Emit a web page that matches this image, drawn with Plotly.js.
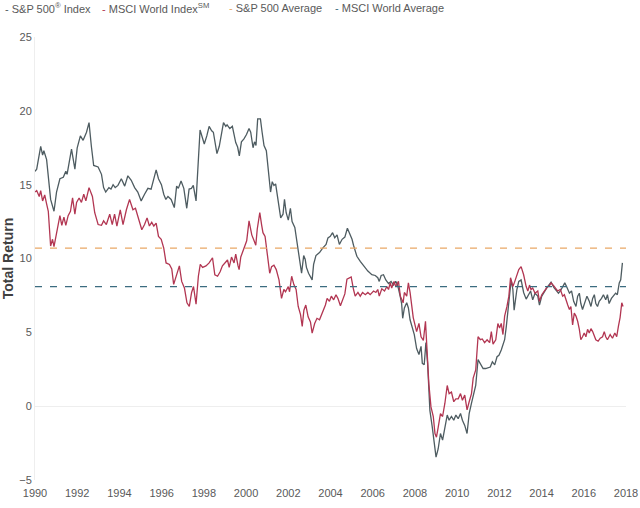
<!DOCTYPE html>
<html>
<head>
<meta charset="utf-8">
<script src="https://cdn.plot.ly/plotly-3.0.1.min.js"></script>
<style>html,body{margin:0;padding:0;background:#fff;}#chart{width:640px;height:508px;}</style>
</head>
<body>
<div id="chart"></div>
<script>
// ---- data ----
const seriesNames = ["S&P 500<sup>®</sup> Index", "MSCI World Index<sup>SM</sup>", "S&P 500 Average", "MSCI World Average"];
const xTickYears = [1990,1992,1994,1996,1998,2000,2002,2004,2006,2008,2010,2012,2014,2016,2018];
const yTickValues = [-5,0,5,10,15,20,25];

const spYears = [1990.00,1990.08,1990.27,1990.36,1990.42,1990.55,1990.74,1990.90,1991.02,1991.18,1991.34,1991.46,1991.52,1991.73,1991.89,1992.00,1992.15,1992.28,1992.44,1992.56,1992.67,1992.78,1992.99,1993.15,1993.25,1993.35,1993.50,1993.60,1993.70,1993.80,1993.93,1994.09,1994.25,1994.40,1994.56,1994.72,1994.87,1995.03,1995.19,1995.35,1995.50,1995.62,1995.74,1995.85,1995.99,1996.10,1996.20,1996.30,1996.45,1996.60,1996.71,1996.79,1996.92,1997.05,1997.19,1997.30,1997.41,1997.50,1997.63,1997.82,1997.92,1998.02,1998.14,1998.25,1998.37,1998.45,1998.62,1998.73,1998.93,1999.04,1999.10,1999.23,1999.35,1999.51,1999.60,1999.68,1999.78,1999.90,2000.02,2000.14,2000.22,2000.33,2000.40,2000.47,2000.55,2000.68,2000.76,2000.85,2000.96,2001.05,2001.16,2001.24,2001.32,2001.40,2001.52,2001.64,2001.75,2001.82,2001.90,2002.00,2002.10,2002.18,2002.31,2002.42,2002.50,2002.63,2002.73,2002.80,2002.86,2002.96,2003.13,2003.20,2003.31,2003.48,2003.63,2003.79,2003.88,2003.99,2004.10,2004.20,2004.31,2004.42,2004.55,2004.68,2004.80,2004.94,2005.02,2005.09,2005.25,2005.41,2005.57,2005.77,2005.96,2006.12,2006.24,2006.31,2006.40,2006.51,2006.62,2006.75,2006.87,2006.98,2007.09,2007.18,2007.30,2007.37,2007.42,2007.50,2007.61,2007.69,2007.77,2007.88,2007.97,2008.08,2008.19,2008.29,2008.35,2008.44,2008.52,2008.60,2008.71,2008.82,2008.92,2009.00,2009.10,2009.21,2009.31,2009.42,2009.53,2009.62,2009.73,2009.84,2009.94,2010.05,2010.16,2010.25,2010.36,2010.47,2010.57,2010.68,2010.79,2010.88,2010.99,2011.10,2011.23,2011.35,2011.46,2011.57,2011.67,2011.78,2011.89,2011.98,2012.09,2012.17,2012.25,2012.33,2012.41,2012.49,2012.56,2012.64,2012.70,2012.83,2012.92,2013.03,2013.15,2013.27,2013.35,2013.48,2013.58,2013.69,2013.82,2013.90,2014.01,2014.14,2014.26,2014.37,2014.45,2014.58,2014.68,2014.80,2014.89,2015.00,2015.10,2015.20,2015.32,2015.42,2015.52,2015.63,2015.71,2015.79,2015.86,2015.94,2016.05,2016.15,2016.26,2016.34,2016.42,2016.50,2016.57,2016.65,2016.73,2016.84,2016.93,2017.04,2017.12,2017.20,2017.31,2017.41,2017.51,2017.59,2017.68,2017.75,2017.83];
const spValues = [15.9,16.05,17.6,17.0,17.3,16.7,14.0,13.2,14.5,15.4,15.5,15.9,15.7,17.4,16.05,17.5,18.3,18.0,18.55,19.2,17.6,16.3,16.2,15.7,14.8,14.5,14.8,14.7,15.0,14.8,14.95,15.4,14.9,15.6,15.3,14.8,14.5,13.9,14.35,14.75,14.7,15.3,16.0,15.4,15.0,14.35,14.0,14.2,14.0,13.45,14.9,14.75,15.25,14.75,13.4,14.7,14.75,14.95,13.9,18.7,18.3,17.75,18.3,18.95,18.65,18.55,17.1,17.6,19.2,18.95,19.05,18.8,18.95,17.85,17.55,16.95,17.9,18.1,18.4,18.8,18.55,17.5,17.9,17.65,19.45,19.45,18.55,17.65,17.3,16.05,14.5,15.2,14.95,15.05,13.9,12.75,13.0,14.0,13.1,12.6,13.4,12.5,12.1,10.95,10.3,9.0,10.2,9.95,9.4,9.0,8.55,9.6,10.2,10.4,10.7,10.95,11.4,11.5,11.75,11.4,11.6,10.95,11.3,11.45,12.05,11.6,11.3,10.9,10.15,9.8,9.5,9.15,8.9,8.85,8.7,8.45,8.85,8.9,8.55,8.3,8.45,8.2,8.45,8.2,7.45,6.95,5.95,6.65,7.0,6.65,5.85,5.3,4.85,3.9,3.5,4.05,2.9,2.8,4.3,2.9,-0.3,-1.4,-2.5,-3.45,-2.9,-1.85,-2.3,-1.3,-0.6,-0.95,-0.7,-0.95,-0.6,-0.85,-0.5,-0.95,-1.3,-1.85,-0.5,0.2,0.85,1.4,3.15,2.9,2.55,2.55,2.6,2.65,3.0,2.8,3.35,3.45,3.8,4.15,4.5,5.4,6.5,7.3,8.55,7.9,6.5,7.9,8.45,8.55,7.7,7.25,7.45,7.8,7.2,7.65,7.45,6.85,7.45,7.8,8.05,8.25,8.4,8.05,7.9,7.65,7.8,8.1,8.35,8.05,7.65,7.8,7.1,6.75,7.45,7.65,6.95,6.55,7.1,7.45,7.1,6.75,7.3,7.55,6.95,6.75,7.1,7.3,7.55,7.2,7.55,6.95,7.3,7.45,7.65,7.55,8.35,8.55,9.7];

const msciYears = [1990.00,1990.08,1990.20,1990.27,1990.36,1990.46,1990.55,1990.63,1990.74,1990.83,1990.90,1991.02,1991.18,1991.27,1991.37,1991.46,1991.57,1991.68,1991.78,1991.89,1991.97,1992.09,1992.20,1992.31,1992.41,1992.56,1992.72,1992.83,1992.99,1993.15,1993.25,1993.38,1993.54,1993.66,1993.77,1993.88,1994.04,1994.17,1994.33,1994.48,1994.64,1994.76,1994.85,1994.95,1995.06,1995.19,1995.31,1995.42,1995.53,1995.63,1995.74,1995.85,1995.98,1996.10,1996.21,1996.37,1996.48,1996.57,1996.68,1996.84,1996.95,1997.08,1997.20,1997.31,1997.42,1997.51,1997.63,1997.74,1997.83,1997.94,1998.10,1998.25,1998.41,1998.52,1998.65,1998.77,1998.88,1999.00,1999.12,1999.20,1999.31,1999.43,1999.51,1999.62,1999.67,1999.75,1999.83,1999.95,2000.03,2000.14,2000.27,2000.38,2000.46,2000.53,2000.65,2000.74,2000.80,2000.90,2001.00,2001.12,2001.21,2001.32,2001.43,2001.56,2001.68,2001.79,2001.87,2002.00,2002.06,2002.16,2002.26,2002.37,2002.47,2002.58,2002.66,2002.74,2002.83,2002.94,2003.05,2003.13,2003.25,2003.36,2003.48,2003.60,2003.76,2003.84,2003.95,2004.04,2004.15,2004.26,2004.35,2004.47,2004.58,2004.68,2004.78,2004.98,2005.09,2005.17,2005.30,2005.41,2005.52,2005.65,2005.77,2005.88,2006.04,2006.15,2006.24,2006.31,2006.43,2006.56,2006.67,2006.75,2006.83,2006.90,2007.01,2007.09,2007.22,2007.31,2007.44,2007.50,2007.61,2007.69,2007.77,2007.85,2007.92,2008.08,2008.19,2008.29,2008.40,2008.50,2008.58,2008.66,2008.76,2008.87,2008.95,2009.02,2009.10,2009.21,2009.31,2009.42,2009.53,2009.62,2009.73,2009.84,2009.94,2010.05,2010.16,2010.25,2010.36,2010.47,2010.57,2010.68,2010.76,2010.88,2010.99,2011.10,2011.19,2011.30,2011.42,2011.54,2011.62,2011.70,2011.83,2011.93,2012.01,2012.09,2012.17,2012.25,2012.36,2012.45,2012.53,2012.64,2012.72,2012.83,2012.92,2013.03,2013.15,2013.27,2013.35,2013.43,2013.50,2013.58,2013.69,2013.82,2013.90,2014.01,2014.14,2014.26,2014.37,2014.45,2014.58,2014.68,2014.76,2014.89,2015.00,2015.08,2015.16,2015.24,2015.32,2015.39,2015.47,2015.55,2015.63,2015.71,2015.79,2015.86,2015.94,2016.02,2016.10,2016.18,2016.26,2016.34,2016.42,2016.50,2016.57,2016.68,2016.78,2016.89,2016.97,2017.04,2017.12,2017.25,2017.36,2017.47,2017.56,2017.64,2017.72,2017.80,2017.86];
const msciValues = [14.5,14.6,14.2,14.6,13.9,14.3,13.7,13.2,10.85,11.3,10.8,11.75,12.9,12.25,12.8,12.25,12.9,13.2,14.1,13.0,13.8,14.1,13.8,14.35,13.9,14.8,14.2,13.1,12.3,12.25,12.55,12.3,13.0,12.3,13.0,12.2,13.3,12.3,13.3,14.0,13.3,13.4,13.0,12.5,11.95,12.3,12.75,12.2,12.45,12.2,12.4,11.5,11.3,10.7,9.7,9.6,9.3,8.25,8.75,9.5,8.45,8.0,7.0,6.75,7.7,8.1,6.9,8.8,9.6,9.4,9.5,9.7,10.05,8.9,8.8,9.1,9.5,9.7,9.9,9.4,10.1,9.7,10.3,9.5,9.25,10.1,10.45,11.0,11.2,12.55,11.6,11.2,10.9,12.0,13.1,12.25,11.75,11.5,10.15,9.0,9.45,9.55,9.25,8.55,7.3,7.9,7.75,8.1,7.75,8.8,8.25,7.9,6.75,6.2,5.4,6.5,6.85,6.05,5.7,4.95,5.6,5.95,5.85,6.3,6.85,7.3,7.1,7.45,7.2,7.55,7.3,6.8,7.2,7.6,8.6,8.75,7.9,7.45,7.7,7.45,7.7,7.55,7.7,7.55,7.8,7.7,7.9,7.45,7.95,7.8,8.1,7.9,8.35,8.0,8.45,8.1,8.45,7.45,7.0,7.7,7.45,8.35,7.7,6.8,6.0,5.05,5.6,4.7,4.45,5.75,3.75,1.5,-0.05,-0.7,-1.85,-2.1,-1.45,-0.5,-0.7,0.2,1.4,0.85,0.95,0.3,0.5,0.5,0.85,0.4,0.75,-0.25,0.3,0.85,1.9,2.45,4.7,4.5,4.55,4.3,4.5,4.3,5.05,4.2,4.5,5.6,5.3,5.6,4.85,6.1,6.75,7.45,8.7,8.1,8.4,8.8,9.25,9.45,8.9,8.1,7.8,8.2,7.9,8.0,7.65,7.8,7.1,7.55,7.8,8.05,8.15,8.35,8.15,7.95,7.8,7.9,7.45,7.55,7.1,6.85,6.55,6.75,5.5,6.3,6.1,5.75,5.2,4.5,4.7,4.95,4.7,5.2,4.95,5.25,5.05,4.7,4.5,4.4,4.6,4.7,5.05,4.7,4.5,4.85,4.6,4.95,4.7,5.4,6.0,7.0,6.75];

const spAverage = 10.7;
const msciAverage = 8.1;
const avgSpan = [1990, 2018];

// ---- styles ----
const colors = ["#4e5c61", "#b23652", "#e9a866", "#3c6c80"];

const traces = [
  {x: spYears, y: spValues, type: "scatter", mode: "lines", name: seriesNames[0],
   line: {color: colors[0], width: 1.3}, showlegend: false},
  {x: msciYears, y: msciValues, type: "scatter", mode: "lines", name: seriesNames[1],
   line: {color: colors[1], width: 1.3}, showlegend: false},
  {x: avgSpan, y: [spAverage, spAverage], type: "scatter", mode: "lines", name: seriesNames[2],
   line: {color: colors[2], width: 1.3, dash: "7px,8px"}, showlegend: false},
  {x: avgSpan, y: [msciAverage, msciAverage], type: "scatter", mode: "lines", name: seriesNames[3],
   line: {color: colors[3], width: 1.3, dash: "7px,8px"}, showlegend: false}
];

const legendX = [3, 100, 227, 333];
const annotations = seriesNames.map((n, i) => ({
  xref: "paper", yref: "paper", x: 0, y: 1, xanchor: "left", yanchor: "middle",
  xshift: legendX[i] - 35, yshift: 29, showarrow: false,
  text: '<span style="color:' + colors[i] + '">-</span> ' + n,
  font: {family: "Liberation Sans, Arial, sans-serif", size: 11, color: "#595959"}
}));

const layout = {
  width: 640, height: 508,
  margin: {l: 35, r: 14, t: 37, b: 28},
  paper_bgcolor: "#ffffff", plot_bgcolor: "#ffffff",
  font: {family: "Liberation Sans, Arial, sans-serif", size: 11, color: "#595959"},
  showlegend: false,
  xaxis: {range: [1990, 2018], tickvals: xTickYears, ticktext: xTickYears.map(String),
          showgrid: false, zeroline: false, showline: false, ticks: "",
          ticklabelstandoff: 5,
          tickfont: {size: 11, color: "#595959"}},
  yaxis: {range: [-5, 25], tickvals: yTickValues, showgrid: false,
          zeroline: true, zerolinecolor: "#eeeeee", zerolinewidth: 1,
          showline: true, linecolor: "#eeeeee", linewidth: 1, ticks: "",
          tickfont: {size: 11, color: "#595959"},
          title: {text: "Total Return", standoff: 6,
                  font: {size: 14, color: "#404040", weight: "bold"}}},
  annotations: annotations
};

Plotly.newPlot("chart", traces, layout, {displayModeBar: false, staticPlot: true});
</script>
</body>
</html>
